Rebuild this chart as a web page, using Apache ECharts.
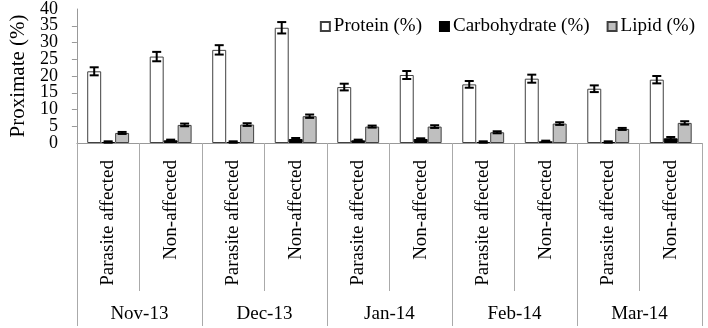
<!DOCTYPE html>
<html>
<head>
<meta charset="utf-8">
<script src="https://cdn.jsdelivr.net/npm/echarts@6/dist/echarts.min.js"></script>
<style>
  html, body { margin: 0; padding: 0; background: #fff; }
  #chart { width: 708px; height: 328px; }
</style>
</head>
<body>
<div id="chart"></div>
<script>
// --- données --- //
const groups = ['Parasite affected', 'Non-affected', 'Parasite affected', 'Non-affected',
  'Parasite affected', 'Non-affected', 'Parasite affected', 'Non-affected',
  'Parasite affected', 'Non-affected'];
const months = ['Nov-13', 'Dec-13', 'Jan-14', 'Feb-14', 'Mar-14'];
const yTicks = [0, 5, 10, 15, 20, 25, 30, 35, 40];

const protein = [21.4, 25.8, 27.8, 34.4, 16.7, 20.3, 17.5, 19.2, 16.2, 18.9];
const carbohydrate = [0.3, 0.8, 0.3, 1.2, 0.8, 1.2, 0.3, 0.5, 0.3, 1.4];
const lipid = [3.0, 5.4, 5.5, 8.0, 4.9, 4.9, 3.2, 5.8, 4.2, 6.0];

const proteinErr = [1.2, 1.4, 1.4, 1.7, 1.0, 1.2, 1.0, 1.2, 1.0, 1.1];
const carbohydrateErr = [0.2, 0.2, 0.2, 0.3, 0.2, 0.2, 0.2, 0.2, 0.2, 0.4];
const lipidErr = [0.3, 0.4, 0.4, 0.5, 0.3, 0.4, 0.3, 0.4, 0.3, 0.5];

const font = "'Liberation Serif', 'Times New Roman', serif";
const gapPct = 0.33;
const yMin = yTicks[0];
const yMax = yTicks[yTicks.length - 1];
const yLabelStyle = { fontSize: 18, fontFamily: font, color: '#000', margin: 19 };

// --- barres d'erreur, décalées selon la position de la barre dans le groupe --- //
function errorSeries(values, errs, slot) {
  return {
    type: 'custom',
    xAxisIndex: 0,
    yAxisIndex: 0,
    silent: true,
    z: 10,
    data: values.map((v, i) => [i, v - errs[i], v + errs[i]]),
    renderItem: function (params, api) {
      const idx = api.value(0);
      const bandW = api.size([1, 0])[0];
      const barW = bandW * (1 - gapPct) / 3;
      const dx = (slot - 1) * barW;
      const lo = api.coord([idx, api.value(1)]);
      const hi = api.coord([idx, api.value(2)]);
      const x = lo[0] + dx;
      const cap = 4.5;
      const style = { stroke: '#000', lineWidth: 2 };
      return {
        type: 'group',
        children: [
          { type: 'line', shape: { x1: x, y1: lo[1], x2: x, y2: hi[1] }, style: style },
          { type: 'line', shape: { x1: x - cap, y1: lo[1], x2: x + cap, y2: lo[1] }, style: style },
          { type: 'line', shape: { x1: x - cap, y1: hi[1], x2: x + cap, y2: hi[1] }, style: style }
        ]
      };
    }
  };
}

const chart = echarts.init(document.getElementById('chart'));

const option = {
  animation: false,
  backgroundColor: '#fff',
  textStyle: { fontFamily: font, color: '#000' },
  legend: {
    right: 8,
    top: 12,
    itemWidth: 9,
    itemHeight: 9,
    itemGap: 17,
    icon: 'rect',
    textStyle: { fontFamily: font, fontSize: 19, color: '#000', padding: [0, 0, 0, -1] },
    data: ['Protein (%)', 'Carbohydrate (%)', 'Lipid (%)']
  },
  grid: { left: 62, right: 6, top: 8, bottom: 185, containLabel: false },
  xAxis: [
    {
      type: 'category',
      data: groups,
      axisLine: { show: true, lineStyle: { color: '#999' } },
      axisTick: { show: true, interval: 0, length: 148, lineStyle: { color: '#aaa' } },
      axisLabel: { interval: 0, rotate: 90, margin: 17, fontSize: 19, fontFamily: font, color: '#000' }
    },
    {
      type: 'category',
      data: months,
      position: 'bottom',
      axisLine: { show: false },
      axisTick: { show: true, interval: 0, length: 183, lineStyle: { color: '#aaa' } },
      axisLabel: { interval: 0, margin: 162, fontSize: 19, fontFamily: font, color: '#000' }
    }
  ],
  yAxis: [
    {
      // axe principal : graduations tous les 5, étiquettes intermédiaires
      type: 'value',
      min: yMin,
      max: yMax,
      interval: 5,
      name: 'Proximate (%)',
      nameLocation: 'middle',
      nameGap: 47,
      nameTextStyle: { fontFamily: font, fontSize: 21, color: '#000' },
      axisLine: { show: true, lineStyle: { color: '#999' } },
      axisTick: { show: true, length: 5, lineStyle: { color: '#999' } },
      splitLine: { show: false },
      axisLabel: Object.assign({ showMinLabel: false, showMaxLabel: false }, yLabelStyle)
    },
    {
      // étiquettes 0 et 40 seulement (évite le masquage automatique)
      type: 'value',
      position: 'left',
      min: yMin,
      max: yMax,
      interval: yMax - yMin,
      axisLine: { show: false },
      axisTick: { show: false },
      splitLine: { show: false },
      axisLabel: Object.assign({ showMinLabel: true, showMaxLabel: true }, yLabelStyle)
    }
  ],
  series: [
    {
      name: 'Protein (%)',
      type: 'bar',
      data: protein,
      barGap: '0%',
      barCategoryGap: (gapPct * 100) + '%',
      itemStyle: { color: '#fff', borderColor: '#404040', borderWidth: 1 }
    },
    {
      name: 'Carbohydrate (%)',
      type: 'bar',
      data: carbohydrate,
      itemStyle: { color: '#000', borderColor: '#000', borderWidth: 1 }
    },
    {
      name: 'Lipid (%)',
      type: 'bar',
      data: lipid,
      itemStyle: { color: '#bfbfbf', borderColor: '#404040', borderWidth: 1 }
    },
    errorSeries(protein, proteinErr, 0),
    errorSeries(carbohydrate, carbohydrateErr, 1),
    errorSeries(lipid, lipidErr, 2)
  ]
};

chart.setOption(option);
</script>
</body>
</html>
